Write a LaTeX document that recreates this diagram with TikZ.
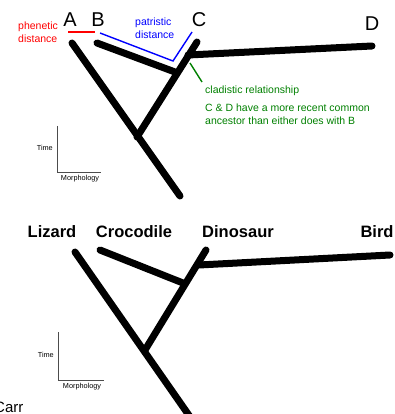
\documentclass[tikz,border=0pt]{standalone}
\usepackage{fontspec}
\setmainfont{Liberation Sans}
\begin{document}
\begin{tikzpicture}[x=1pt,y=-1pt,
  branch/.style={line width=7pt,line cap=round},
  thin/.style={line width=1.4pt},
  axis/.style={line width=0.8pt,draw=black!70},
  big/.style={font=\fontsize{20}{20}\selectfont,inner sep=0pt},
  taxon/.style={font=\fontsize{16.5}{16.5}\selectfont\bfseries,inner sep=0pt},
  small/.style={font=\fontsize{10.5}{12.5}\selectfont,inner sep=0pt,align=left},
  tiny/.style={font=\fontsize{7.3}{7.3}\selectfont,inner sep=0pt}]
\useasboundingbox (0,0) rectangle (395,414);
\definecolor{gr}{RGB}{0,128,0}
% ---- top tree ----
\node[big] (A) at (70,20) {A};
\node[big] (B) at (98,20) {B};
\node[big] (C) at (199,20) {C};
\node[big] (D) at (372,24) {D};
\node[small,text=red,anchor=west] (phen) at (18,32) {phenetic\\distance};
\node[small,text=blue,anchor=west] (patr) at (135,28) {patristic\\distance};
\coordinate (tA) at (72,43);
\coordinate (tAb) at (180,196);
\coordinate (tB) at (97,43);
\coordinate (tBj) at (175,72);
\coordinate (tS) at (137,137);
\coordinate (tC) at (197,42);
\coordinate (tDj) at (188,55);
\coordinate (tD) at (372,46);
\draw[branch] (tA) -- (tAb);
\draw[branch] (tB) -- (tBj);
\draw[branch] (tS) -- (tC);
\draw[branch] (tDj) -- (tD);
\coordinate (r1) at (68,32);
\coordinate (r2) at (95,32);
\draw[thin,red] (r1) -- (r2);
\coordinate (b1) at (100,33);
\coordinate (b2) at (173,61);
\coordinate (b3) at (192,32);
\draw[thin,blue] (b1) -- (b2) -- (b3);
\coordinate (g1) at (190,63);
\coordinate (g2) at (202,82);
\draw[thin,gr] (g1) -- (g2);
\node[small,text=gr,anchor=west] (clad) at (205,91) {cladistic relationship};
\node[small,text=gr,anchor=west] (cd) at (205,114) {C \& D have a more recent common\\ancestor than either does with B};
% top axes
\coordinate (ax1) at (57,126);
\coordinate (ax0) at (57,172);
\coordinate (ax2) at (101,172);
\draw[axis] (ax1) -- (ax0) -- (ax2);
\node[tiny,anchor=east] (time1) at (53,148) {Time};
\node[tiny] (morph1) at (80,179) {Morphology};
% ---- bottom tree ----
\node[taxon] (liz) at (52,232) {Lizard};
\node[taxon] (croc) at (134,232) {Crocodile};
\node[taxon] (dino) at (238,232) {Dinosaur};
\node[taxon] (bird) at (377,232) {Bird};
\coordinate (lA) at (75,252);
\coordinate (lAb) at (195,424);
\coordinate (lB) at (100,250);
\coordinate (lBj) at (183,283);
\coordinate (lS) at (145,350);
\coordinate (lC) at (206,250);
\coordinate (lDj) at (199,265);
\coordinate (lD) at (390,255);
\draw[branch] (lA) -- (lAb);
\draw[branch] (lB) -- (lBj);
\draw[branch] (lS) -- (lC);
\draw[branch] (lDj) -- (lD);
\coordinate (bx1) at (58,332);
\coordinate (bx0) at (58,380);
\coordinate (bx2) at (104,380);
\draw[axis] (bx1) -- (bx0) -- (bx2);
\node[tiny,anchor=east] (time2) at (54,355) {Time};
\node[tiny] (morph2) at (82,387) {Morphology};
\node[font=\fontsize{15}{15}\selectfont,inner sep=0pt,anchor=base west] (carr) at (-6,412) {Carr};
\end{tikzpicture}
\end{document}
